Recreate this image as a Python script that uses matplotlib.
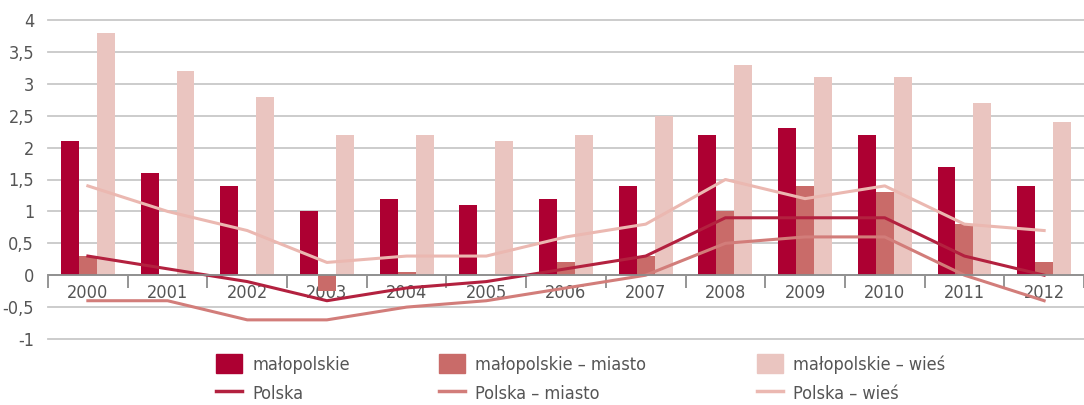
import numpy as np
import matplotlib
matplotlib.use("Agg")
import matplotlib.pyplot as plt
from matplotlib.patches import Patch
from matplotlib.lines import Line2D

plt.rcParams['font.family'] = ['DejaVu Sans']
plt.rcParams['font.stretch'] = 'condensed'

# data
years = ['2000', '2001', '2002', '2003', '2004', '2005', '2006',
         '2007', '2008', '2009', '2010', '2011', '2012']
malopolskie = [2.1, 1.6, 1.4, 1.0, 1.2, 1.1, 1.2, 1.4, 2.2, 2.3, 2.2, 1.7, 1.4]
malopolskie_miasto = [0.3, -0.02, -0.02, -0.25, 0.05, 0.0, 0.2, 0.3, 1.0, 1.4, 1.3, 0.8, 0.2]
malopolskie_wies = [3.8, 3.2, 2.8, 2.2, 2.2, 2.1, 2.2, 2.5, 3.3, 3.1, 3.1, 2.7, 2.4]
polska = [0.3, 0.1, -0.1, -0.4, -0.2, -0.1, 0.1, 0.3, 0.9, 0.9, 0.9, 0.3, 0.0]
polska_miasto = [-0.4, -0.4, -0.7, -0.7, -0.5, -0.4, -0.2, 0.0, 0.5, 0.6, 0.6, 0.0, -0.4]
polska_wies = [1.4, 1.0, 0.7, 0.2, 0.3, 0.3, 0.6, 0.8, 1.5, 1.2, 1.4, 0.8, 0.7]
yticks = [-1, -0.5, 0, 0.5, 1, 1.5, 2, 2.5, 3, 3.5, 4]
ytick_labels = ['-1', '-0,5', '0', '0,5', '1', '1,5', '2', '2,5', '3', '3,5', '4']

c_mal = '#AD0032'
c_mia = '#C96B69'
c_wie = '#EAC5C0'
c_pol = '#B3213F'
c_pmia = '#D27D7A'
c_pwie = '#EBB8B1'
txt = '#555555'
fs = 13

fig = plt.figure(figsize=(10.84, 4.05), dpi=100)
ax = fig.add_axes([48/1084, (405-339)/405, 1-48/1084, (339-20)/405])

x = np.arange(len(years))
w = 0.225
ax.bar(x - w, malopolskie, w, color=c_mal)
ax.bar(x, malopolskie_miasto, w, color=c_mia)
ax.bar(x + w, malopolskie_wies, w, color=c_wie)
ax.plot(x, polska_wies, color=c_pwie, lw=2.2)
ax.plot(x, polska_miasto, color=c_pmia, lw=2.2)
ax.plot(x, polska, color=c_pol, lw=2.2)

ax.set_xlim(-0.5, len(years) - 0.5)
ax.set_ylim(-1, 4)
ax.set_axisbelow(True)
ax.set_yticks(yticks)
ax.set_yticklabels(ytick_labels)
ax.yaxis.grid(True, color='#C8C8C8', lw=1.3)
for g in ax.yaxis.get_gridlines():
    g.set_clip_on(False)
ax.tick_params(axis='y', length=0, pad=10, labelsize=fs, labelcolor=txt)

for s in ['top', 'right', 'left']:
    ax.spines[s].set_visible(False)
ax.spines['bottom'].set_position(('data', 0))
ax.spines['bottom'].set_color('#8C8C8C')
ax.spines['bottom'].set_linewidth(1.3)
ax.set_xticks(x)
ax.set_xticklabels(years)
ax.set_xticks(np.arange(len(years) + 1) - 0.5, minor=True)
ax.tick_params(axis='x', which='major', length=0, pad=6, labelsize=fs, labelcolor=txt)
ax.tick_params(axis='x', which='minor', length=9, width=1.3, color='#8C8C8C', direction='out')

# legend in three columns
cols = [
    (Patch(color=c_mal), Line2D([], [], color=c_pol, lw=2.5), 'małopolskie', 'Polska', 209),
    (Patch(color=c_mia), Line2D([], [], color=c_pmia, lw=2.5), 'małopolskie – miasto', 'Polska – miasto', 432),
    (Patch(color=c_wie), Line2D([], [], color=c_pwie, lw=2.5), 'małopolskie – wieś', 'Polska – wieś', 750),
]
for p, l, t1, t2, xp in cols:
    leg = fig.legend([p, l], [t1, t2], loc='upper left', bbox_to_anchor=(xp/1084, 1 - 347/405),
                     frameon=False, fontsize=fs, handlelength=1.4, handleheight=1.2,
                     handletextpad=0.6, labelspacing=0.55, labelcolor=txt, borderaxespad=0)

fig.savefig('out.png', dpi=100)
